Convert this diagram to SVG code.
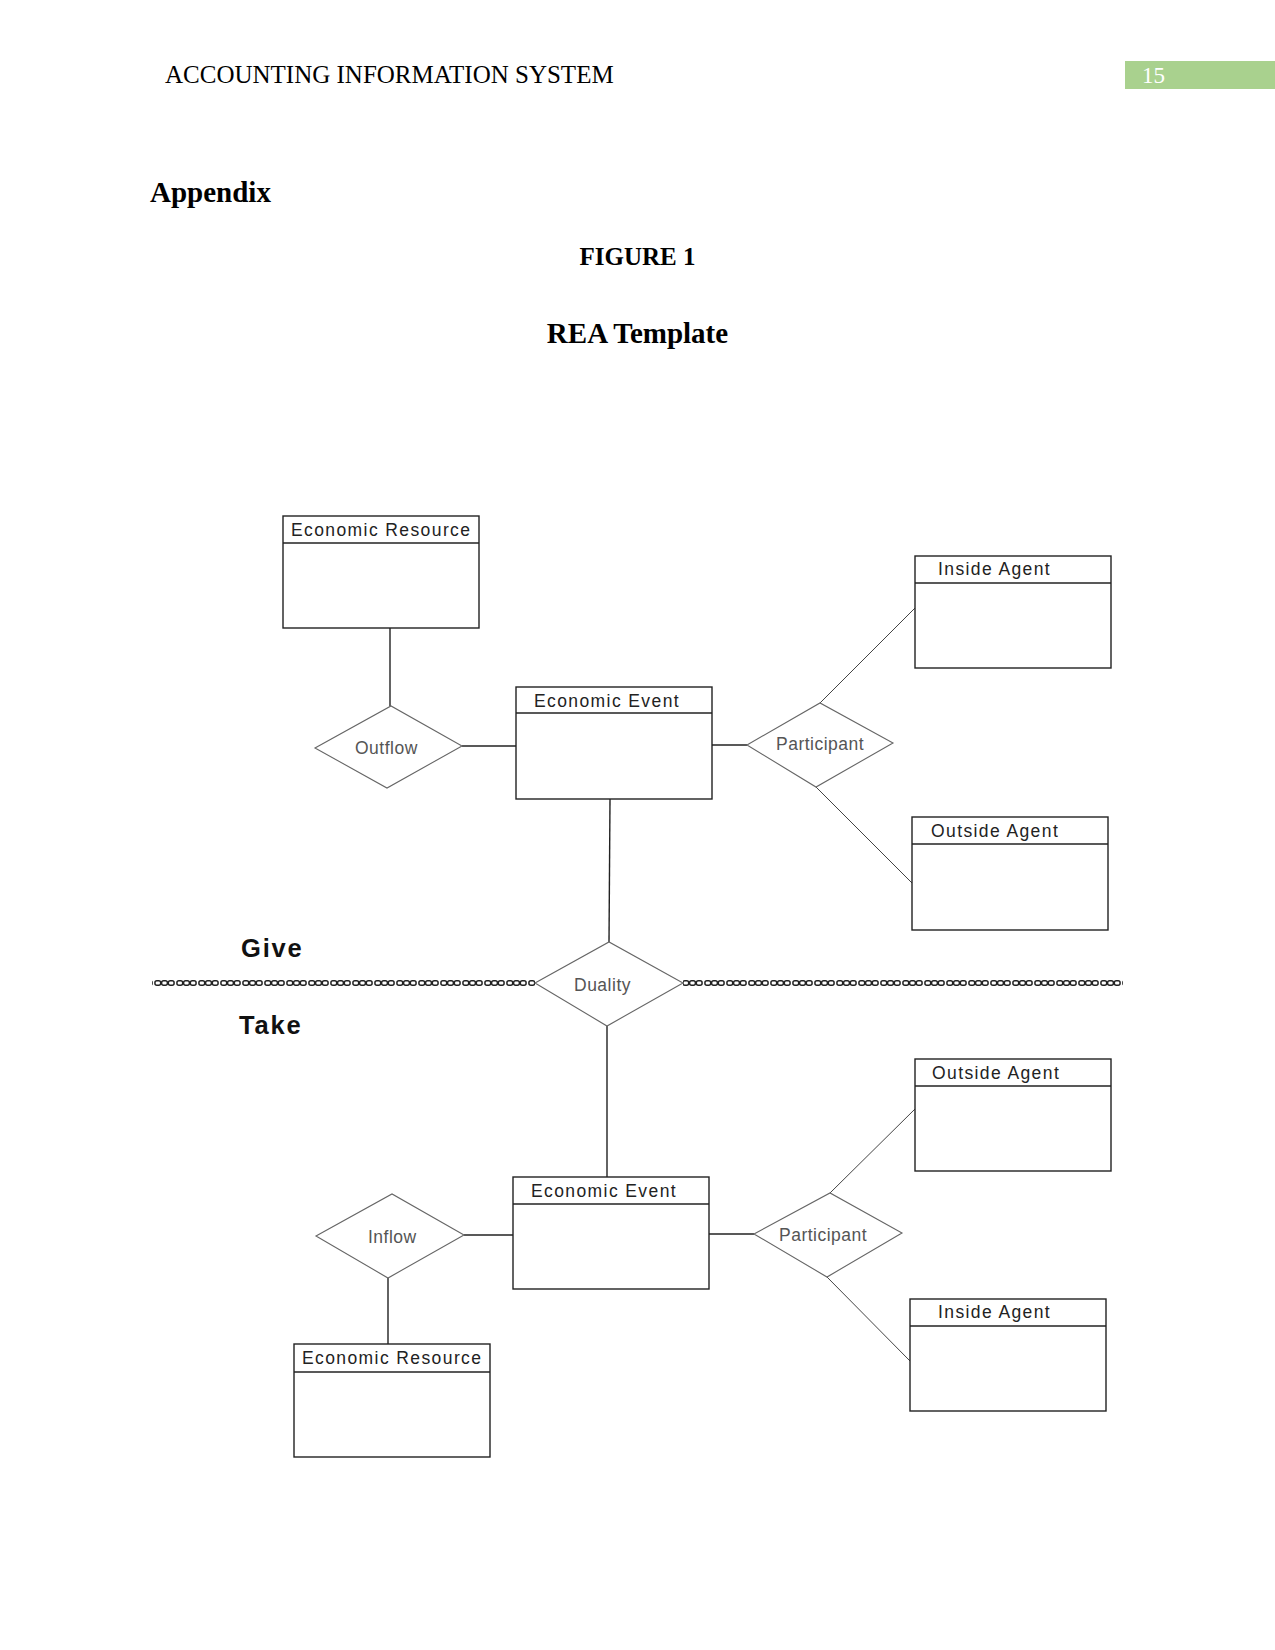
<svg xmlns="http://www.w3.org/2000/svg" width="1275" height="1650" viewBox="0 0 1275 1650">
<style>
.serif{font-family:"Liberation Serif","Times New Roman",serif;fill:#000}
.box{fill:#fff;stroke:#222;stroke-width:1.4}
.hdr{stroke:#222;stroke-width:1.4}
.btxt{font-family:"Liberation Sans",Arial,sans-serif;font-size:17.5px;letter-spacing:1.4px;fill:#222}
.dia{fill:#fff;stroke:#666;stroke-width:1.1}
.dtxt{font-family:"Liberation Sans",Arial,sans-serif;font-size:17.5px;letter-spacing:0.5px;fill:#555}
.conn line{stroke:#222;stroke-width:1.4}
.conn line.thin{stroke:#444;stroke-width:1}
.gt{font-family:"Liberation Sans",Arial,sans-serif;font-size:25.5px;font-weight:bold;letter-spacing:1.8px;fill:#111}
.lk{fill:none;stroke:#222;stroke-width:1.5}
</style>
<defs>
<pattern id="chain" x="0" y="979" width="22" height="8" patternUnits="userSpaceOnUse">
<rect class="lk" x="0.9" y="1.8" width="5.8" height="4.4" rx="2"/>
<rect class="lk" x="7.6" y="1.8" width="5.8" height="4.4" rx="2"/>
<rect class="lk" x="14.3" y="1.8" width="5.8" height="4.4" rx="2"/>
</pattern>
</defs>
<rect width="1275" height="1650" fill="#fff"/>
<text class="serif" x="165" y="83" font-size="25">ACCOUNTING INFORMATION SYSTEM</text>
<rect x="1125" y="61" width="150" height="28" fill="#a9d18e"/>
<text class="serif" x="1142" y="83" font-size="23" style="fill:#fff">15</text>
<text class="serif" x="150" y="202" font-size="29" font-weight="bold">Appendix</text>
<text class="serif" x="637.5" y="265" font-size="25" font-weight="bold" text-anchor="middle">FIGURE 1</text>
<text class="serif" x="637.5" y="343" font-size="29" font-weight="bold" text-anchor="middle">REA Template</text>

<g id="connectors" class="conn">
<line x1="390" y1="628" x2="390" y2="706"/>
<line x1="462" y1="746" x2="516" y2="746"/>
<line x1="712" y1="745" x2="747" y2="745"/>
<line class="thin" x1="820" y1="703" x2="915" y2="608"/>
<line class="thin" x1="816" y1="787" x2="912" y2="883"/>
<line x1="610" y1="799" x2="609" y2="942"/>
<line x1="607" y1="1026" x2="607" y2="1177"/>
<line x1="464" y1="1235" x2="513" y2="1235"/>
<line x1="388" y1="1278" x2="388" y2="1344"/>
<line x1="709" y1="1234" x2="754" y2="1234"/>
<line class="thin" x1="830" y1="1193" x2="915" y2="1109"/>
<line class="thin" x1="827" y1="1277" x2="910" y2="1361"/>
<rect x="152" y="979" width="383" height="8" fill="url(#chain)"/>
<rect x="683" y="979" width="440" height="8" fill="url(#chain)"/>
</g>

<text class="gt" x="241" y="957">Give</text>
<text class="gt" x="239" y="1034">Take</text>

<g id="er-top"><rect class="box" x="283" y="516" width="196" height="112"/><line class="hdr" x1="283" y1="543" x2="479" y2="543"/><text class="btxt" x="291" y="536">Economic Resource</text></g>
<g id="ee-top"><rect class="box" x="516" y="687" width="196" height="112"/><line class="hdr" x1="516" y1="713" x2="712" y2="713"/><text class="btxt" x="534" y="707">Economic Event</text></g>
<g id="ia-top"><rect class="box" x="915" y="556" width="196" height="112"/><line class="hdr" x1="915" y1="583" x2="1111" y2="583"/><text class="btxt" x="938" y="575">Inside Agent</text></g>
<g id="oa-top"><rect class="box" x="912" y="817" width="196" height="113"/><line class="hdr" x1="912" y1="844" x2="1108" y2="844"/><text class="btxt" x="931" y="837">Outside Agent</text></g>
<g id="oa-bottom"><rect class="box" x="915" y="1059" width="196" height="112"/><line class="hdr" x1="915" y1="1086" x2="1111" y2="1086"/><text class="btxt" x="932" y="1079">Outside Agent</text></g>
<g id="ee-bottom"><rect class="box" x="513" y="1177" width="196" height="112"/><line class="hdr" x1="513" y1="1204" x2="709" y2="1204"/><text class="btxt" x="531" y="1197">Economic Event</text></g>
<g id="ia-bottom"><rect class="box" x="910" y="1299" width="196" height="112"/><line class="hdr" x1="910" y1="1326" x2="1106" y2="1326"/><text class="btxt" x="938" y="1318">Inside Agent</text></g>
<g id="er-bottom"><rect class="box" x="294" y="1344" width="196" height="113"/><line class="hdr" x1="294" y1="1372" x2="490" y2="1372"/><text class="btxt" x="302" y="1364">Economic Resource</text></g>

<g id="outflow"><polygon class="dia" points="315,748 391,706 462,746 387,788"/><text class="dtxt" x="355" y="754">Outflow</text></g>
<g id="participant-top"><polygon class="dia" points="747,745 820,703 893,743 816,787"/><text class="dtxt" x="776" y="750">Participant</text></g>
<g id="duality"><polygon class="dia" points="535,983 609,942 683,983 607,1026"/><text class="dtxt" x="574" y="991">Duality</text></g>
<g id="inflow"><polygon class="dia" points="316,1236 392,1194 464,1235 388,1278"/><text class="dtxt" x="368" y="1243">Inflow</text></g>
<g id="participant-bottom"><polygon class="dia" points="754,1234 830,1193 902,1233 827,1277"/><text class="dtxt" x="779" y="1241">Participant</text></g>
</svg>
